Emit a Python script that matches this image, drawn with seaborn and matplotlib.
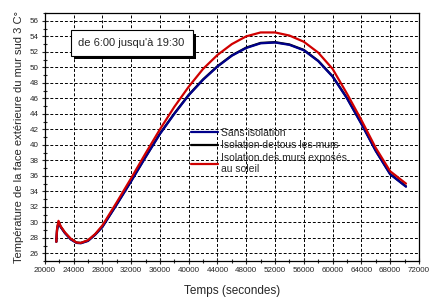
import matplotlib
matplotlib.use('Agg')
import matplotlib.pyplot as plt
import matplotlib.patheffects as pe
import pandas as pd
import seaborn as sns
from matplotlib.ticker import MultipleLocator

# Data (time in seconds, temperature in C)
temps_s = [21600, 21700, 21900, 22200, 22800, 23600, 24400, 25000, 26000, 27000,
           28000, 30000, 32000, 34000, 36000, 38000, 40000, 42000, 44000, 46000,
           48000, 50000, 52000, 54000, 56000, 58000, 60000, 62000, 64000, 66000,
           68000, 70200]
sans_isolation = [27.5, 29.0, 30.0, 29.4, 28.6, 27.8, 27.35, 27.3, 27.6, 28.4,
                  29.4, 32.3, 35.3, 38.4, 41.4, 44.0, 46.4, 48.4, 50.1, 51.5,
                  52.5, 53.1, 53.2, 52.9, 52.2, 50.8, 48.8, 46.0, 42.7, 39.2,
                  36.2, 34.6]
isolation_tous = [27.5, 29.05, 30.05, 29.45, 28.65, 27.85, 27.4, 27.35, 27.65, 28.45,
                  29.45, 32.35, 35.35, 38.45, 41.45, 44.05, 46.45, 48.45, 50.15, 51.55,
                  52.55, 53.15, 53.25, 52.95, 52.25, 50.85, 48.85, 46.05, 42.75, 39.25,
                  36.25, 34.65]
isolation_exposes = [27.5, 29.2, 30.2, 29.5, 28.7, 27.9, 27.4, 27.35, 27.7, 28.5,
                     29.6, 32.6, 35.7, 38.9, 42.0, 44.9, 47.5, 49.8, 51.6, 53.0,
                     54.0, 54.5, 54.5, 54.1, 53.3, 51.9, 49.8, 46.6, 43.2, 39.6,
                     36.6, 35.0]
series_labels = ['Sans isolation', 'Isolation de tous les murs',
                 'Isolation des murs exposés\nau soleil']

df = pd.DataFrame({
    't': temps_s * 3,
    'T': sans_isolation + isolation_tous + isolation_exposes,
    'serie': [series_labels[0]] * len(temps_s) + [series_labels[1]] * len(temps_s)
             + [series_labels[2]] * len(temps_s),
})

sns.set_style('ticks')
plt.rcParams['font.family'] = ['Liberation Sans', 'DejaVu Sans']

fig = plt.figure(figsize=(4.31, 3.04), dpi=100)
ax = fig.add_axes([0.104, 0.141, 0.868, 0.816])

# draw black first so blue sits on top, red last
palette = {series_labels[0]: '#00008b', series_labels[1]: 'black',
           series_labels[2]: '#d00000'}
for lab in [series_labels[1], series_labels[0], series_labels[2]]:
    sns.lineplot(data=df[df['serie'] == lab], x='t', y='T', color=palette[lab],
                 linewidth=1.6, ax=ax, label=lab, estimator=None, sort=False)

ax.set_xlim(20000, 72000)
ax.set_ylim(25, 57)
ax.xaxis.set_major_locator(MultipleLocator(4000))
ax.xaxis.set_minor_locator(MultipleLocator(2000))
ax.yaxis.set_minor_locator(MultipleLocator(1))
ax.set_yticks(range(26, 57, 2))
ax.tick_params(which='major', direction='inout', length=5, width=0.8,
               labelsize=5.8, pad=2)
ax.tick_params(which='minor', direction='inout', length=3, width=0.8)
ax.grid(True, which='major', color='black', linestyle=(0, (3, 2)), linewidth=0.7)
for s in ax.spines.values():
    s.set_linewidth(0.9)
    s.set_color('black')

ax.set_xlabel('Temps (secondes)', fontsize=8.5, labelpad=8)
ax.set_ylabel('Température de la face extérieure du mur sud 3 C°', fontsize=8, labelpad=4)

# Legend in the desired order
handles, labels = ax.get_legend_handles_labels()
order = [labels.index(l) for l in series_labels]
ax.legend([handles[i] for i in order], [labels[i] for i in order],
          loc='upper left', bbox_to_anchor=(0.38, 0.555), frameon=False,
          fontsize=7.5, handlelength=2.6, handletextpad=0.3,
          labelspacing=0.25, borderaxespad=0)

# Text box with drop shadow
box = ax.text(0.09, 0.88, "de 6:00 jusqu'à 19:30", transform=ax.transAxes,
              fontsize=8, va='center', zorder=6,
              bbox=dict(boxstyle='square,pad=0.7', fc='white', ec='black', lw=0.8))
box.get_bbox_patch().set_path_effects([
    pe.SimplePatchShadow(offset=(2.5, -2.5), shadow_rgbFace='black', alpha=1),
    pe.Normal()])

fig.savefig('out.png', dpi=100)
